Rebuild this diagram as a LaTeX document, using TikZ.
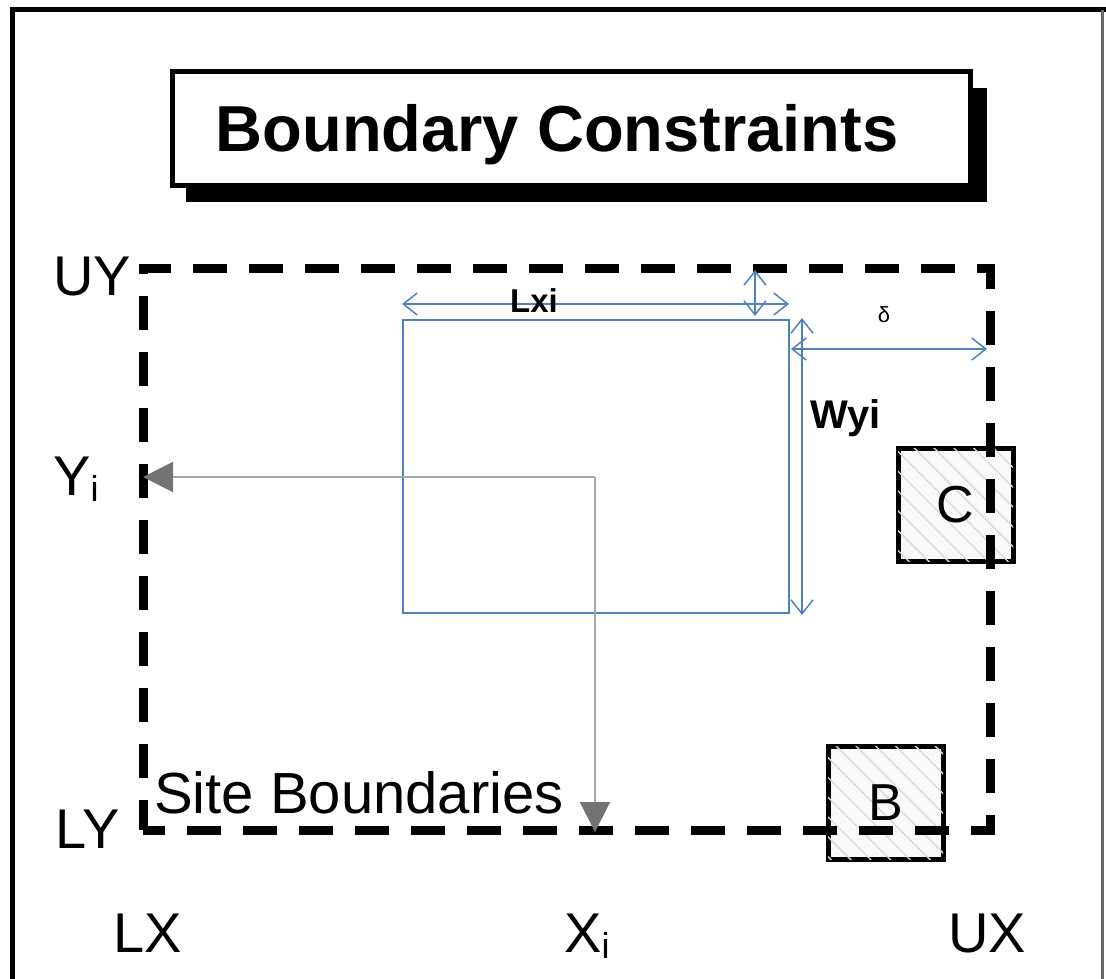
\documentclass[tikz,border=0pt]{standalone}
\usepackage{fontspec}
\setmainfont{Liberation Sans}
\usetikzlibrary{arrows.meta,patterns.meta}
\definecolor{dimblue}{RGB}{79,129,189}
\newcommand{\subi}{\raisebox{-0.12em}{\fontsize{36}{36}\selectfont i}}

\begin{document}
\begin{tikzpicture}[x=1pt, y=-1pt,
    lbl/.style={font=\fontsize{56}{60}\selectfont, inner sep=0pt, anchor=base west},
    dimline/.style={dimblue, line width=1.5pt,
        {Straight Barb[length=14pt,width=22pt]}-{Straight Barb[length=14pt,width=22pt]}},
    block/.style={draw, line width=5pt, fill=gray!5, minimum width=115pt, minimum height=113pt,
        postaction={pattern={Lines[angle=-45,distance=14pt,line width=1.3pt]}, pattern color=gray!30},
        font=\fontsize{52}{56}\selectfont},
    pointer/.style={black!35, line width=2pt, -{Triangle[length=30pt,width=30pt,color=black!55]}}]
    \useasboundingbox (0,0) rectangle (1106,979);

    % 外框
    \draw[line width=5pt] (12,979) -- (12,10) -- (1106,10);
    \draw[line width=3pt, black!60] (1102,10) -- (1102,979);

    % 标题
    \fill (186,88) rectangle (987,202);
    \node[draw, line width=5pt, fill=white, minimum width=798pt, minimum height=113pt] (tbox) at (571,128.5) {};
    \node[font=\fontsize{65}{70}\selectfont\bfseries, inner sep=0pt, anchor=base] (title) at (557,152) {Boundary Constraints};

    % 障碍物
    \node[block] (blkC) at (955.5,505) {C};
    \node[block] (blkB) at (885.5,802.5) {B};

    % 场地边界
    \coordinate (sw) at (143,830);
    \coordinate (ne) at (990,268);
    \draw[line width=9pt, dash pattern=on 34pt off 22pt, dash phase=4pt] (sw) rectangle (ne);

    % 设施
    \coordinate (fa) at (403,320);
    \coordinate (fb) at (789,613);
    \draw[dimblue, line width=1.5pt] (fa) rectangle (fb);

    % 尺寸线
    \coordinate (lx1) at (402,304);
    \coordinate (lx2) at (789,304);
    \draw[dimline] (lx1) -- (lx2);
    \coordinate (gy1) at (755,270);
    \coordinate (gy2) at (755,316);
    \draw[dimline] (gy1) -- (gy2);
    \coordinate (wy1) at (802,318);
    \coordinate (wy2) at (802,615);
    \draw[dimline] (wy1) -- (wy2);
    \coordinate (dl1) at (791,349);
    \coordinate (dl2) at (987,349);
    \draw[dimline] (dl1) -- (dl2);
    \node[font=\fontsize{33}{36}\selectfont\bfseries, inner sep=0pt, anchor=base] (lxi) at (534,312) {Lxi};
    \node[font=\fontsize{40}{42}\selectfont\bfseries, inner sep=0pt, anchor=base west] (wyi) at (810,428) {Wyi};
    \node[font=\fontsize{22}{24}\selectfont, inner sep=0pt, anchor=base] (delta) at (884,322) {δ};

    % 位置 (X_i, Y_i)
    \coordinate (pos) at (595,477);
    \coordinate (yi) at (143,477);
    \coordinate (xi) at (595,832);
    \draw[pointer] (pos) -- (yi);
    \draw[pointer] (pos) -- (xi);

    % 标注
    \node[lbl] (uy) at (53,295) {UY};
    \node[lbl] (yilab) at (53,495) {Y\subi};
    \node[lbl] (ly) at (55,848) {LY};
    \node[lbl] (lx) at (113,952) {LX};
    \node[lbl] (xilab) at (564,952) {X\subi};
    \node[lbl] (ux) at (948,952) {UX};
    \node[font=\fontsize{58}{62}\selectfont, inner sep=0pt, anchor=base west] (site) at (154,813) {Site Boundaries};
\end{tikzpicture}
\end{document}
